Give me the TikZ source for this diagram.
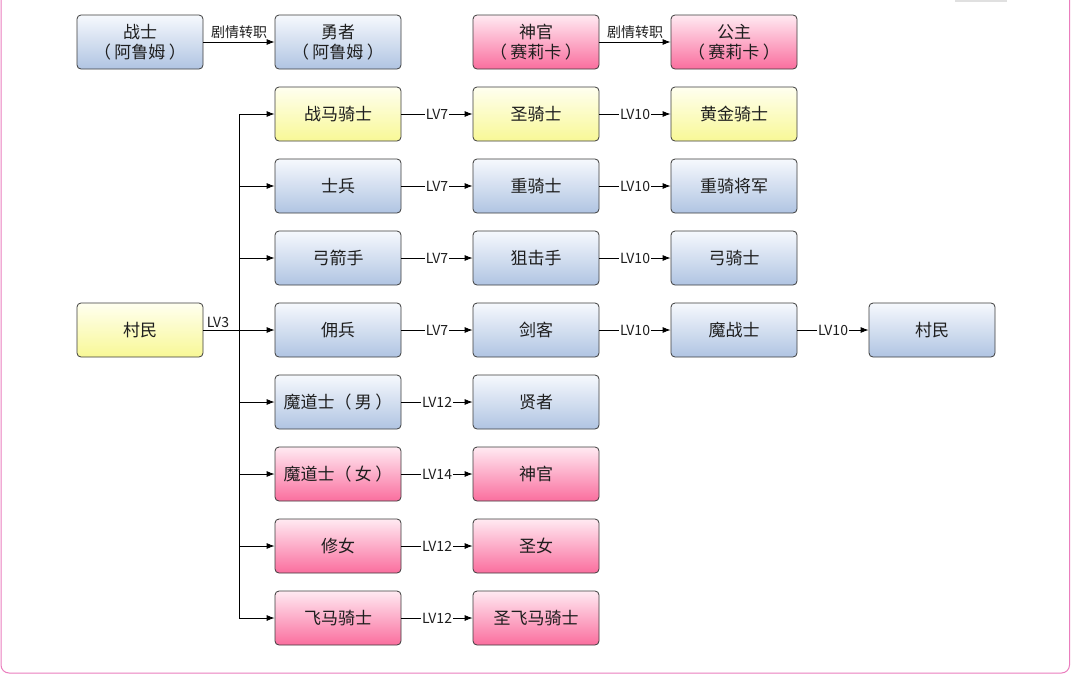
\documentclass[tikz,border=0pt]{standalone}
\usepackage{fontspec}
\setmainfont{Noto Sans CJK SC}
\usetikzlibrary{arrows.meta}
\definecolor{bluetop}{RGB}{246,249,253}
\definecolor{bluebot}{RGB}{176,196,226}
\definecolor{yeltop}{RGB}{255,255,240}
\definecolor{yelbot}{RGB}{248,248,150}
\definecolor{pinktop}{RGB}{255,234,242}
\definecolor{pinkbot}{RGB}{250,110,158}
\definecolor{boxline}{RGB}{60,60,60}
\definecolor{textc}{RGB}{30,30,30}
\definecolor{frame}{RGB}{235,125,190}
\newcommand{\lp}{（\hspace{0.2em}}
\newcommand{\rp}{\hspace{0.2em}）}
\begin{document}
\begin{tikzpicture}[x=1pt,y=-1pt,
  box/.style={draw=boxline, line width=0.8pt, rounded corners=4pt,
    minimum width=126pt, minimum height=54pt, inner sep=0pt,
    font=\fontsize{17}{20.5}\selectfont, text=textc, align=center},
  bluebox/.style={box, top color=bluetop, bottom color=bluebot},
  yelbox/.style={box, top color=yeltop, bottom color=yelbot},
  pinkbox/.style={box, top color=pinktop, bottom color=pinkbot},
  conn/.style={-{Latex[length=8pt,width=6pt]}, line width=0.8pt, draw=black},
  plain/.style={line width=0.8pt, draw=black},
  lvl/.style={fill=white, inner sep=1.2pt, text=textc, font=\fontsize{14}{16}\selectfont},
  toplbl/.style={above, inner sep=3pt, text=textc, font=\fontsize{14}{16}\selectfont}
]
\useasboundingbox (0,0) rectangle (1071,675);
\fill[white] (0,0) rectangle (1071,675);
\draw[frame, line width=1pt, rounded corners=8pt] (1,-20) rectangle (1069.5,673);
\fill[black!12] (955,0) rectangle (1007,1.5);

% top row
\node[bluebox] (a1) at (140,42) {战士\\\lp 阿鲁姆\rp};
\node[bluebox] (a2) at (338,42) {勇者\\\lp 阿鲁姆\rp};
\node[pinkbox] (b1) at (536,42) {神官\\\lp 赛莉卡\rp};
\node[pinkbox] (b2) at (734,42) {公主\\\lp 赛莉卡\rp};
\draw[conn] (a1) -- node[toplbl] {剧情转职} (a2);
\draw[conn] (b1) -- node[toplbl] {剧情转职} (b2);

% villager
\node[yelbox] (v) at (140,330) {村民};

% rows
\node[yelbox] (r1a) at (338,114) {战马骑士};
\node[yelbox] (r1b) at (536,114) {圣骑士};
\node[yelbox] (r1c) at (734,114) {黄金骑士};

\node[bluebox] (r2a) at (338,186) {士兵};
\node[bluebox] (r2b) at (536,186) {重骑士};
\node[bluebox] (r2c) at (734,186) {重骑将军};

\node[bluebox] (r3a) at (338,258) {弓箭手};
\node[bluebox] (r3b) at (536,258) {狙击手};
\node[bluebox] (r3c) at (734,258) {弓骑士};

\node[bluebox] (r4a) at (338,330) {佣兵};
\node[bluebox] (r4b) at (536,330) {剑客};
\node[bluebox] (r4c) at (734,330) {魔战士};
\node[bluebox] (r4d) at (932,330) {村民};

\node[bluebox] (r5a) at (338,402) {魔道士\lp 男\rp};
\node[bluebox] (r5b) at (536,402) {贤者};

\node[pinkbox] (r6a) at (338,474) {魔道士\lp 女\rp};
\node[pinkbox] (r6b) at (536,474) {神官};

\node[pinkbox] (r7a) at (338,546) {修女};
\node[pinkbox] (r7b) at (536,546) {圣女};

\node[pinkbox] (r8a) at (338,618) {飞马骑士};
\node[pinkbox] (r8b) at (536,618) {圣飞马骑士};

% trunk
\coordinate (j) at (239,330);
\draw[plain] (v.east) -- node[above right, pos=0, inner sep=2pt, xshift=1pt, text=textc, font=\fontsize{14}{16}\selectfont] {LV3} (j);
\draw[plain] (j |- r1a.west) -- (j |- r8a.west);
\foreach \n in {r1a,r2a,r3a,r4a,r5a,r6a,r7a,r8a}
  \draw[conn] (j |- \n.west) -- (\n.west);

% level edges
\draw[conn] (r1a) -- node[lvl] {LV7} (r1b);
\draw[conn] (r1b) -- node[lvl] {LV10} (r1c);
\draw[conn] (r2a) -- node[lvl] {LV7} (r2b);
\draw[conn] (r2b) -- node[lvl] {LV10} (r2c);
\draw[conn] (r3a) -- node[lvl] {LV7} (r3b);
\draw[conn] (r3b) -- node[lvl] {LV10} (r3c);
\draw[conn] (r4a) -- node[lvl] {LV7} (r4b);
\draw[conn] (r4b) -- node[lvl] {LV10} (r4c);
\draw[conn] (r4c) -- node[lvl] {LV10} (r4d);
\draw[conn] (r5a) -- node[lvl] {LV12} (r5b);
\draw[conn] (r6a) -- node[lvl] {LV14} (r6b);
\draw[conn] (r7a) -- node[lvl] {LV12} (r7b);
\draw[conn] (r8a) -- node[lvl] {LV12} (r8b);
\end{tikzpicture}
\end{document}
